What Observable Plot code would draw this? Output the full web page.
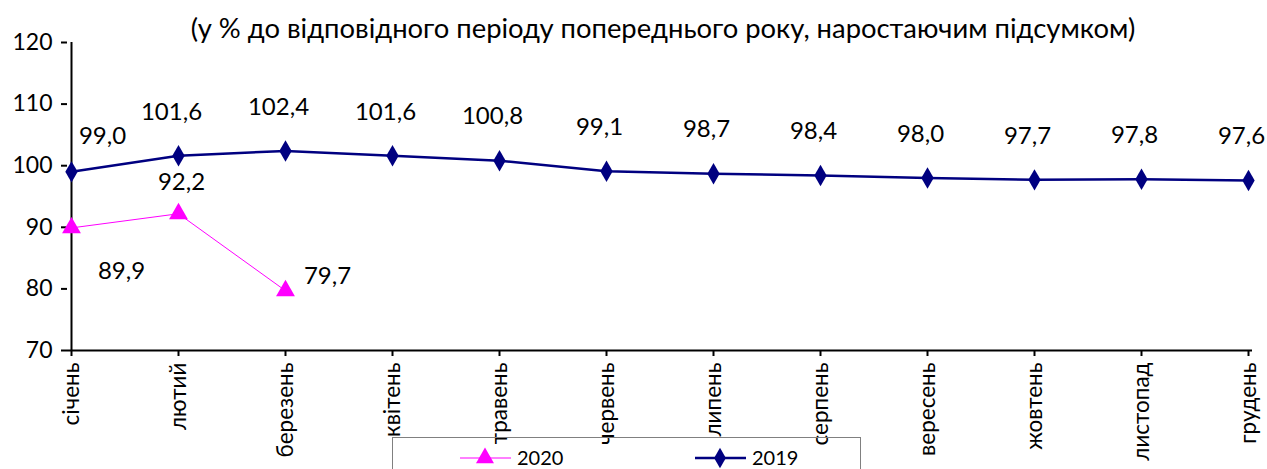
<!DOCTYPE html>
<html>
<head>
<meta charset="utf-8">
<script src="https://cdn.jsdelivr.net/npm/d3@7"></script>
<script src="https://cdn.jsdelivr.net/npm/@observablehq/plot@0.6"></script>
<style>
  html, body { margin: 0; padding: 0; background: #fff; }
  #wrap { position: relative; width: 1267px; height: 469px; overflow: hidden; font-family: Lato, "Noto Sans", sans-serif; }
  #subtitle { position: absolute; top: 11px; left: 0; width: 1326px; text-align: center; font-size: 27.4px; color: #000; }
  #legend { position: absolute; left: 392px; top: 437px; width: 469px; height: 60px; border: 1px solid #808080; box-sizing: border-box; }
  #legend svg { position: absolute; left: 0; top: 0; }
  #chart svg { position: absolute; left: 0; top: 0; }
</style>
</head>
<body>
<div id="wrap">
  <div id="chart"></div>
  <div id="subtitle">(у % до відповідного періоду попереднього року, наростаючим підсумком)</div>
  <div id="legend"></div>
</div>
<script>
const months = ["січень","лютий","березень","квітень","травень","червень","липень","серпень","вересень","жовтень","листопад","грудень"];
const values2019 = [99.0, 101.6, 102.4, 101.6, 100.8, 99.1, 98.7, 98.4, 98.0, 97.7, 97.8, 97.6];
const values2020 = [89.9, 92.2, 79.7];
const yTicks = [70, 80, 90, 100, 110, 120];
const seriesNames = ["2020", "2019"];

const c2019 = "#000080", c2020 = "#FF00FF";
const d2019 = values2019.map((v, i) => ({m: months[i], v}));
const d2020 = values2020.map((v, i) => ({m: months[i], v}));
const fmt = v => v.toFixed(1).replace(".", ",");
const lf = 24;

const chart = Plot.plot({
  width: 1267, height: 469,
  marginLeft: 67, marginRight: 15, marginTop: 42, marginBottom: 119,
  style: {fontFamily: "Lato, 'Noto Sans', sans-serif", background: "transparent", color: "#000"},
  x: {type: "point", domain: months, padding: 0},
  y: {domain: [70, 120]},
  marks: [
    Plot.axisY({ticks: yTicks, tickSize: 6, tickPadding: 9, fontSize: 23, label: null, strokeWidth: 2}),
    Plot.axisX({tickSize: 6, tickPadding: 6, tickRotate: -90, fontSize: 22.5, label: null, strokeWidth: 2}),
    Plot.ruleY([70], {stroke: "#000", strokeWidth: 2}),
    Plot.ruleX([months[0]], {y1: 70, y2: 120, stroke: "#000", strokeWidth: 2}),
    Plot.line(d2019, {x: "m", y: "v", stroke: c2019, strokeWidth: 2.5}),
    Plot.dot(d2019, {x: "m", y: "v", symbol: "diamond", r: 6.5, fill: c2019, stroke: "none"}),
    Plot.line(d2020, {x: "m", y: "v", stroke: c2020, strokeWidth: 1}),
    Plot.dot(d2020, {x: "m", y: "v", symbol: "triangle", r: 7, fill: c2020, stroke: "none"}),
    Plot.text(d2019.slice(1), {x: "m", y: "v", text: d => fmt(d.v), dy: -44, dx: -7, fontSize: lf, fill: "#000"}),
    Plot.text(d2019.slice(0, 1), {x: "m", y: "v", text: d => fmt(d.v), dy: -36, dx: 31, fontSize: lf, fill: "#000"}),
    Plot.text(d2020.slice(0, 1), {x: "m", y: "v", text: d => fmt(d.v), dy: 43, dx: 50, fontSize: lf, fill: "#000"}),
    Plot.text(d2020.slice(1, 2), {x: "m", y: "v", text: d => fmt(d.v), dy: -31, dx: 3, fontSize: lf, fill: "#000"}),
    Plot.text(d2020.slice(2, 3), {x: "m", y: "v", text: d => fmt(d.v), dy: -14, dx: 42, fontSize: lf, fill: "#000"})
  ]
});
document.getElementById("chart").appendChild(chart);

// Legend
const leg = d3.select("#legend").append("svg").attr("width", 469).attr("height", 60);
const items = [
  {name: seriesNames[0], color: c2020, sym: d3.symbolTriangle, w: 1, size: 140, x0: 67},
  {name: seriesNames[1], color: c2019, sym: d3.symbolDiamond, w: 2.5, size: 120, x0: 302}
];
items.forEach(it => {
  const g = leg.append("g").attr("transform", `translate(${it.x0},20)`);
  g.append("line").attr("x1", 0).attr("x2", 51).attr("stroke", it.color).attr("stroke-width", it.w);
  g.append("path").attr("d", d3.symbol(it.sym, it.size)()).attr("transform", "translate(25,0)").attr("fill", it.color);
  g.append("text").attr("x", 57).attr("y", 0).attr("dy", "0.35em").attr("font-size", 20)
    .attr("font-family", "Lato, 'Noto Sans', sans-serif").text(it.name);
});
</script>
</body>
</html>
